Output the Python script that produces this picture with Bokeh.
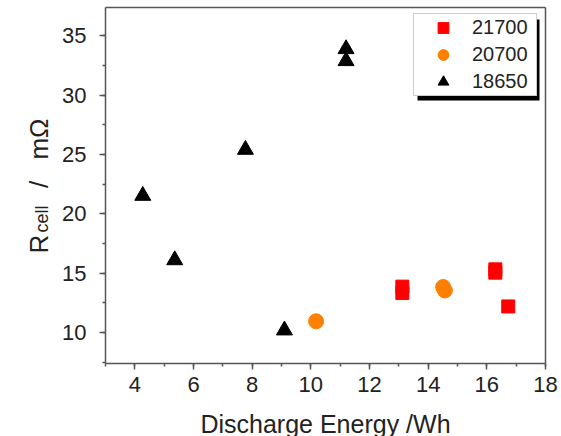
import math
from bokeh.plotting import figure
from bokeh.models import (Legend, LegendItem, BoxAnnotation, Label, LinearAxis,
                          FixedTicker, SingleIntervalTicker, Range1d)
from bokeh.embed import file_html
from bokeh.resources import INLINE

# ---------------- data ----------------
series_names = ["21700", "20700", "18650"]
energy_21700 = [13.12, 13.12, 16.29, 16.29, 16.73]
rcell_21700 = [13.86, 13.33, 15.32, 15.04, 12.19]
energy_20700 = [10.18, 14.51, 14.57]
rcell_20700 = [10.94, 13.83, 13.54]
energy_18650 = [4.27, 5.36, 7.77, 9.10, 11.20, 11.20]
rcell_18650 = [21.53, 16.10, 25.41, 10.18, 33.90, 32.89]
x_title = "Discharge Energy /Wh"
y_title_main = "R"
y_title_sub = "cell"
y_title_sep = "/"
y_title_unit = "mΩ"

# ---------------- layout ----------------
W, H = 561, 436
# plot box (axis extents) in data units and where it sits on the canvas
X0, X1 = 3, 18
Y0, Y1 = 7.38, 37.4
BOX_L, BOX_R, BOX_T, BOX_B = 105, 545, 7, 363
KX = (BOX_R - BOX_L) / (X1 - X0)
KY = (BOX_B - BOX_T) / (Y1 - Y0)
XS, XE = X0 - BOX_L / KX, X1 + (W - BOX_R) / KX
YS, YE = Y0 - (H - BOX_B) / KY, Y1 + BOX_T / KY
BASE_SHIFT = 8.5  # label baseline correction (px)

FONT = "Liberation Sans"
TXT = "#222222"
AX = "#555555"


def xd(px):
    return XS + px / KX


def yd(py):
    return YE - py / KY


p = figure(width=W, height=H, x_range=Range1d(XS, XE), y_range=Range1d(YS, YE),
           output_backend="svg", toolbar_location=None, min_border=0,
           min_border_left=0, min_border_right=0, min_border_top=0,
           min_border_bottom=0)
p.grid.visible = False
p.background_fill_color = "white"
p.border_fill_color = "white"
p.outline_line_color = None

xaxis = p.below[0]
yaxis = p.left[0]
xaxis.ticker = SingleIntervalTicker(interval=2, num_minor_ticks=2)
yaxis.ticker = SingleIntervalTicker(interval=5, num_minor_ticks=2)
xaxis.fixed_location = Y0
yaxis.fixed_location = X0
xaxis.bounds = (X0, X1)
yaxis.bounds = (Y0, Y1)

# closing lines of the plot box (top and right), as tick-less axes
top_axis = LinearAxis(ticker=FixedTicker(ticks=[]), fixed_location=Y1, bounds=(X0, X1),
                      major_label_text_font_size="0px")
right_axis = LinearAxis(ticker=FixedTicker(ticks=[]), fixed_location=X1, bounds=(Y0, Y1),
                        major_label_text_font_size="0px")
p.add_layout(top_axis, "above")
p.add_layout(right_axis, "right")

for ax in (xaxis, yaxis, top_axis, right_axis):
    ax.axis_line_color = AX
    ax.axis_line_width = 1.5
    ax.major_tick_line_color = AX
    ax.major_tick_line_width = 1.5
    ax.minor_tick_line_color = AX
    ax.minor_tick_line_width = 1.5
    ax.major_tick_in = 0
    ax.minor_tick_in = 0
for ax in (xaxis, yaxis):
    ax.major_tick_out = 6
    ax.minor_tick_out = 3
    ax.major_label_text_font = FONT
    ax.major_label_text_color = TXT
    ax.major_label_text_font_size = "22px"
for ax in (top_axis, right_axis):
    ax.major_tick_out = 0
    ax.minor_tick_out = 0
xaxis.major_label_standoff = 7
yaxis.major_label_standoff = 13

r1 = p.scatter(energy_21700, rcell_21700, marker="square", size=13,
               fill_color="#FF0000", line_color="#FF0000")
r2 = p.scatter(energy_20700, rcell_20700, marker="circle", size=15,
               fill_color="#FF8000", line_color="#FF8000")
r3 = p.scatter(energy_18650, rcell_18650, marker="triangle", size=16,
               fill_color="black", line_color="black")

# legend shadow
shadow = BoxAnnotation(left=xd(417), right=xd(539), top=yd(19), bottom=yd(100),
                       fill_color="black", fill_alpha=1.0, line_color=None,
                       level="underlay")
p.add_layout(shadow)

legend = Legend(items=[LegendItem(label=series_names[0], renderers=[r1]),
                       LegendItem(label=series_names[1], renderers=[r2]),
                       LegendItem(label=series_names[2], renderers=[r3])],
                location=(413, H - 96), padding=0, spacing=0, margin=0,
                glyph_height=27, glyph_width=58, label_height=27, label_width=64,
                label_standoff=0, label_text_font=FONT, label_text_font_size="20px",
                label_text_color=TXT, label_text_baseline="middle",
                border_line_color="#999999", border_line_width=1,
                background_fill_color="white", background_fill_alpha=1.0)
p.add_layout(legend, "center")

# ---- axis titles ----
p.add_layout(Label(x=xd(325), y=yd(431.5 - BASE_SHIFT), text=x_title,
                   text_align="center", text_baseline="alphabetic", text_font=FONT,
                   text_font_size="25px", text_color=TXT))
rot = dict(angle=math.pi / 2, text_baseline="alphabetic", text_font=FONT,
           text_color=TXT)
p.add_layout(Label(x=xd(47 - BASE_SHIFT), y=yd(253), text=y_title_main,
                   text_align="left", text_font_size="26px", **rot))
p.add_layout(Label(x=xd(49.5 - BASE_SHIFT), y=yd(232), text=y_title_sub,
                   text_align="left", text_font_size="18px", **rot))
p.add_layout(Label(x=xd(47 - BASE_SHIFT), y=yd(184), text=y_title_sep,
                   text_align="center", text_font_size="26px", **rot))
p.add_layout(Label(x=xd(47 - BASE_SHIFT), y=yd(138.5), text=y_title_unit,
                   text_align="center", text_font_size="26px", **rot))

open("out.html", "w").write(file_html(p, INLINE))
